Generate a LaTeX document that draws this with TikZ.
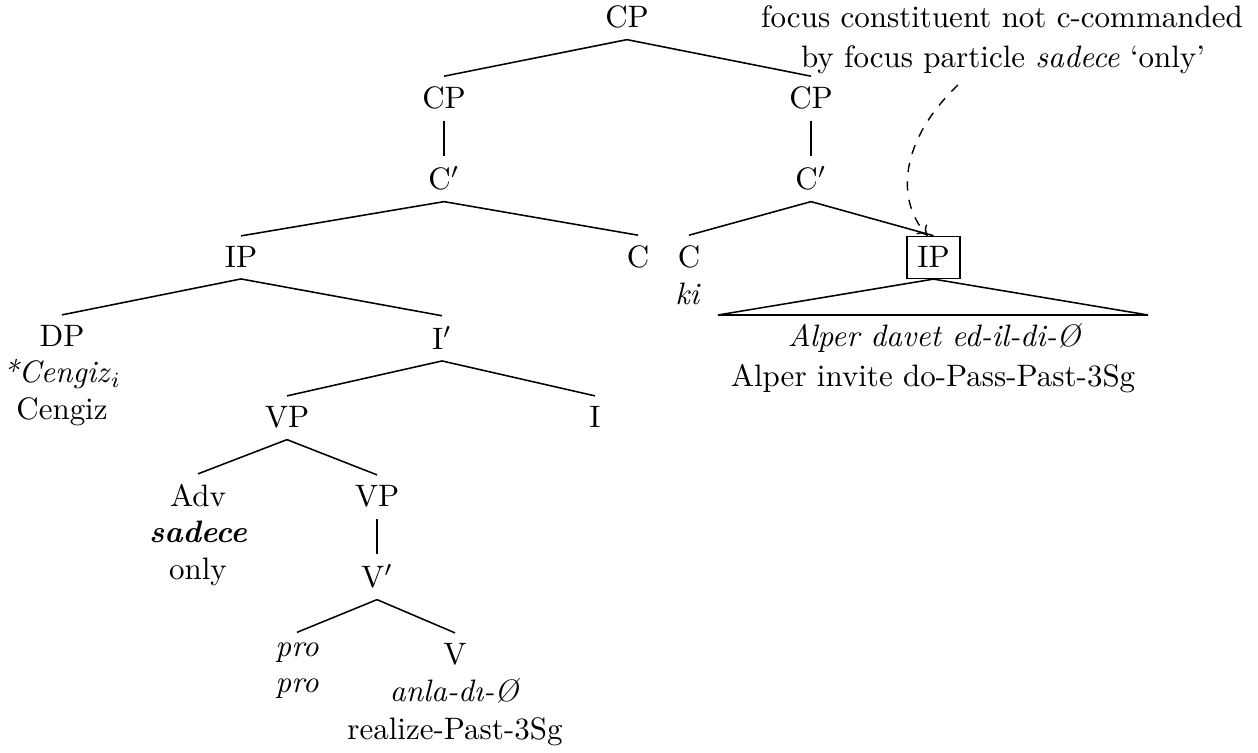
\documentclass[tikz,border=0pt]{standalone}
\usepackage{fontspec}
\usetikzlibrary{arrows.meta}
\begin{document}
\begin{tikzpicture}[x=0.3226pt,y=-0.3226pt,
  cat/.style={anchor=base},
  gloss/.style={anchor=base,inner sep=0pt},
  note/.style={anchor=base,inner sep=0pt},
  branch/.style={line width=0.5pt},
  pointer/.style={dashed,line width=0.45pt,-{To[length=3pt,width=4.5pt]}}]
\useasboundingbox (0,0) rectangle (1258,753);

% upper part of the tree
\node[cat] (cp)  at (627,28)  {CP};
\node[cat] (cpL) at (444,109) {CP};
\node[cat] (cpR) at (811,109) {CP};
\node[cat] (cbL) at (444,190) {C$'$};
\node[cat] (cbR) at (811,190) {C$'$};
\node[cat] (ipL) at (241,268) {IP};
\node[cat] (cL)  at (638,268) {C};
\node[cat] (cR)  at (689,268) {C};
\node[gloss] (ki) at (688,305) {\textit{ki}};
\node[cat,draw,line width=0.5pt] (ipR) at (933.5,268) {IP};
\coordinate (triL) at (718,315);
\coordinate (triR) at (1148,315);
\node[gloss] (alperTr) at (935,347) {\textit{Alper davet ed-il-di-Ø}};
\node[gloss] (alperGl) at (933,387) {Alper invite do-Pass-Past-3Sg};

% left IP
\node[cat] (dp) at (62,347) {DP};
\node[gloss] (cengizTr) at (62,383) {\textit{*Cengiz}$_i$};
\node[gloss] (cengizGl) at (62,420) {Cengiz};
\node[cat] (ib)  at (442,350) {I$'$};
\node[cat] (vpA) at (287,428) {VP};
\node[cat] (i)   at (595,428) {I};
\node[cat] (adv) at (198,507) {Adv};
\node[gloss] (sadece) at (198,543) {\textbf{\textit{sadece}}};
\node[gloss] (only)   at (198,580) {only};
\node[cat] (vpB) at (377,507) {VP};
\node[cat] (vb)  at (377,588) {V$'$};
\node[cat] (pro) at (297,657) {\textit{pro}};
\node[gloss] (proGl) at (297,693) {\textit{pro}};
\node[cat] (v) at (455,665) {V};
\node[gloss] (anla)    at (455,702) {\textit{anla-dı-Ø}};
\node[gloss] (realize) at (455,740) {realize-Past-3Sg};

% branches
\draw[branch] (cp.south) -- (cpL.north);
\draw[branch] (cp.south) -- (cpR.north);
\draw[branch] (cpL.south) -- (cbL.north);
\draw[branch] (cpR.south) -- (cbR.north);
\draw[branch] (cbL.south) -- (ipL.north);
\draw[branch] (cbL.south) -- (cL.north);
\draw[branch] (cbR.south) -- (cR.north);
\draw[branch] (cbR.south) -- (ipR.north);
\draw[branch] (ipR.south) -- (triL) -- (triR) -- cycle;
\draw[branch] (ipL.south) -- (dp.north);
\draw[branch] (ipL.south) -- (ib.north);
\draw[branch] (ib.south) -- (vpA.north);
\draw[branch] (ib.south) -- (i.north);
\draw[branch] (vpA.south) -- (adv.north);
\draw[branch] (vpA.south) -- (vpB.north);
\draw[branch] (vpB.south) -- (vb.north);
\draw[branch] (vb.south) -- (pro.north);
\draw[branch] (vb.south) -- (v.north);

% annotation with its pointer
\node[note] (noteA) at (1002,28) {focus constituent not c-commanded};
\node[note] (noteB) at (1003,68) {by focus particle \textit{sadece} `only'};
\coordinate (arrowstart) at (958,85);
\draw[pointer] (arrowstart) .. controls (900,140) and (895,200) .. (ipR.105);
\end{tikzpicture}
\end{document}
